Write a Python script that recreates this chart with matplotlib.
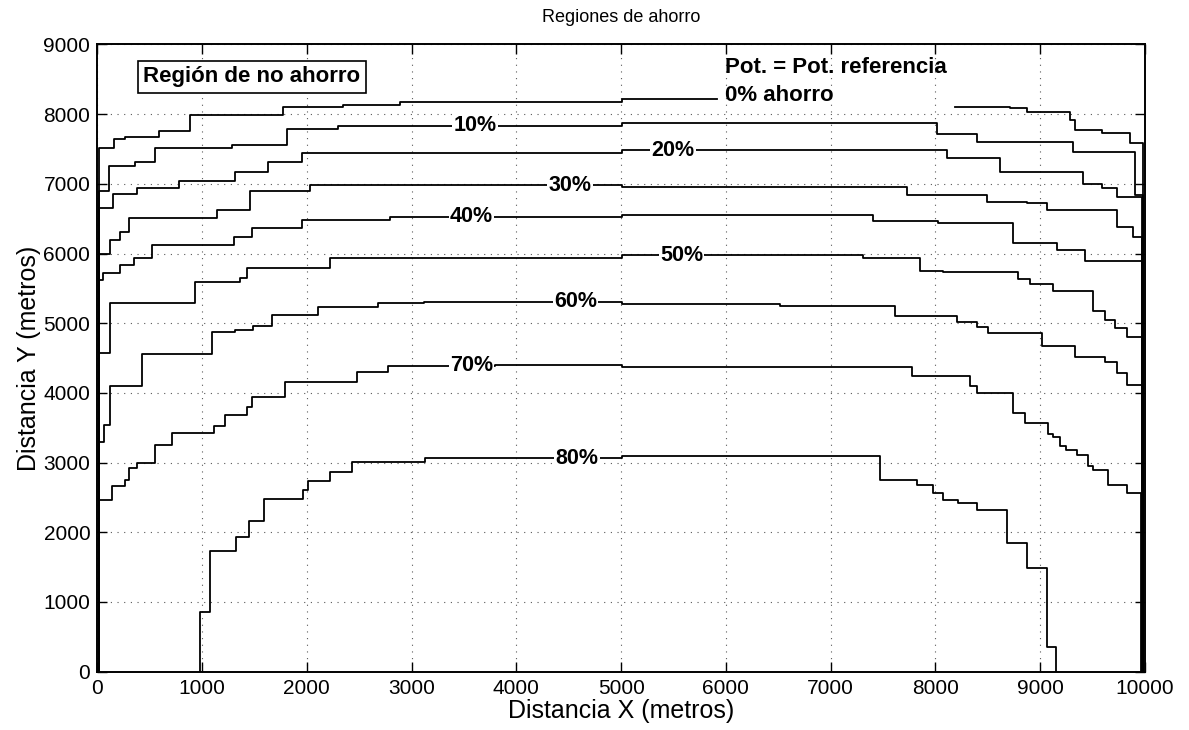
import matplotlib
matplotlib.use('Agg')
import matplotlib.pyplot as plt

plt.rcParams['font.family'] = ['Liberation Sans', 'DejaVu Sans']

# contour levels: x where each step starts, y of the step
c00_x = [15, 156, 267, 586, 888, 1776, 2348, 2889, 5005]
c00_y = [7518, 7650, 7670, 7758, 7990, 8106, 8130, 8178, 8212]
c00_end = 5912
c00b_x = [8187, 8712, 8871, 9284, 9335, 9590, 9857]
c00b_y = [8106, 8083, 8034, 7915, 7775, 7724, 7581]
c00b_end = 9982

c10_x = [15, 109, 363, 554, 1290, 1808, 2301, 5005, 5848, 8012, 8394, 9316, 9905]
c10_y = [6897, 7260, 7317, 7509, 7560, 7782, 7835, 7868, 7876, 7714, 7595, 7455, 6839]
c10_end = 9982

c20_x = [15, 150, 379, 777, 1317, 1632, 1951, 5005, 8107, 8616, 9411, 9590, 9730]
c20_y = [6657, 6849, 6944, 7036, 7170, 7317, 7448, 7485, 7370, 7165, 7000, 6944, 6806]
c20_end = 9975

c30_x = [15, 124, 220, 300, 1143, 1461, 2030, 5005, 7725, 8489, 8871, 9067, 9730, 9889]
c30_y = [5989, 6194, 6313, 6514, 6624, 6895, 6983, 6957, 6845, 6743, 6720, 6624, 6385, 6241]
c30_end = 9975

c40_x = [15, 57, 220, 347, 522, 1301, 1474, 1951, 2794, 5005, 7407, 8027, 8743, 9157, 9430]
c40_y = [5620, 5716, 5835, 5940, 6122, 6241, 6361, 6485, 6528, 6547, 6470, 6433, 6146, 6050, 5897]
c40_end = 9975

c50_x = [15, 124, 935, 1363, 1426, 2221, 5005, 7311, 7852, 8075, 8791, 8903, 9125, 9507, 9618, 9713, 9825]
c50_y = [4572, 5290, 5595, 5644, 5787, 5940, 5978, 5942, 5750, 5730, 5630, 5558, 5466, 5175, 5046, 4926, 4802]
c50_end = 9975

c60_x = [15, 61, 124, 427, 1095, 1317, 1488, 1664, 2110, 2682, 3115, 5005, 6517, 7613, 8203, 8394, 8500,
         9014, 9333, 9618, 9730, 9825]
c60_y = [3300, 3539, 4095, 4562, 4878, 4907, 4960, 5118, 5232, 5294, 5308, 5270, 5250, 5099, 5017, 4950, 4855,
         4668, 4519, 4443, 4285, 4113]
c60_end = 9985

c70_x = [15, 137, 264, 300, 379, 554, 713, 1111, 1222, 1429, 1474, 1792, 2476, 2778, 3796, 5005, 7773, 8333,
         8400, 8743, 8855, 9078, 9125, 9190, 9250, 9348, 9459, 9500, 9650, 9825]
c70_y = [2468, 2660, 2750, 2918, 2990, 3253, 3420, 3525, 3683, 3800, 3946, 4161, 4304, 4386, 4400, 4378, 4240,
         4099, 4003, 3716, 3564, 3410, 3363, 3238, 3185, 3115, 2951, 2900, 2679, 2563]
c70_end = 9960

c80_x = [980, 1076, 1324, 1451, 1591, 1966, 2014, 2221, 2428, 3128, 5005, 7471, 7821, 7980, 8075, 8218, 8394,
         8680, 8871, 9062]
c80_y = [852, 1730, 1937, 2162, 2483, 2600, 2738, 2869, 3010, 3061, 3090, 2750, 2675, 2557, 2463, 2420, 2316,
         1851, 1483, 350]
c80_end = 9150

label_txt = ['10%', '20%', '30%', '40%', '50%', '60%', '70%', '80%']
label_x = [3606, 5498, 4512, 3573, 5576, 4565, 3573, 4580]
label_y = [7844, 7485, 6983, 6528, 5978, 5308, 4400, 3061]

fig = plt.figure(figsize=(11.89, 7.30), dpi=100)
ax = fig.add_axes([0.0818, 0.0799, 0.8812, 0.8592])


def step_line(xs, ys, x_end, rise=True, drop=True):
    px = list(xs) + [x_end]
    py = list(ys) + [ys[-1]]
    if rise:
        px = [xs[0]] + px
        py = [0] + py
    if drop:
        px = px + [x_end]
        py = py + [0]
    ax.plot(px, py, color='black', lw=1.3, drawstyle='steps-post', zorder=3)


step_line(c00_x, c00_y, c00_end, drop=False)
step_line(c00b_x, c00b_y, c00b_end, rise=False)
step_line(c10_x, c10_y, c10_end)
step_line(c20_x, c20_y, c20_end)
step_line(c30_x, c30_y, c30_end)
step_line(c40_x, c40_y, c40_end)
step_line(c50_x, c50_y, c50_end)
step_line(c60_x, c60_y, c60_end)
step_line(c70_x, c70_y, c70_end)
step_line(c80_x, c80_y, c80_end)

for t, x, y in zip(label_txt, label_x, label_y):
    ax.text(x, y, t, ha='center', va='center', fontsize=15.5, fontweight='bold', zorder=5,
            bbox=dict(facecolor='white', edgecolor='none', pad=1))

ax.text(1474, 8537, 'Región de no ahorro', ha='center', va='center', fontsize=16, fontweight='bold',
        zorder=6, bbox=dict(facecolor='white', edgecolor='black', lw=1.2, pad=4))
ax.text(5991, 8668, 'Pot. = Pot. referencia', ha='left', va='center', fontsize=16, fontweight='bold', zorder=6)
ax.text(5991, 8274, '0% ahorro', ha='left', va='center', fontsize=16, fontweight='bold', zorder=6)

ax.set_xlim(0, 10000)
ax.set_ylim(0, 9000)
ax.set_xticks(range(0, 10001, 1000))
ax.set_yticks(range(0, 9001, 1000))
ax.tick_params(direction='in', top=True, right=True, length=7, width=1, labelsize=15, pad=5)
ax.grid(True, color='0.35', linestyle=(0, (1, 5)), lw=0.8)
for s in ax.spines.values():
    s.set_linewidth(1.4)

ax.set_title('Regiones de ahorro', fontsize=13, pad=16)
ax.set_xlabel('Distancia X (metros)', fontsize=18, labelpad=1)
ax.set_ylabel('Distancia Y (metros)', fontsize=18, labelpad=2)

fig.savefig('out.png', dpi=100)
